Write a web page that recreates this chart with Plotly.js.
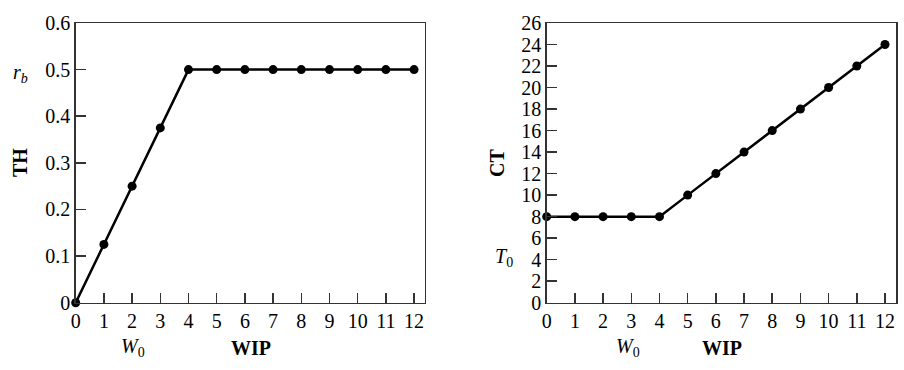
<!DOCTYPE html>
<html>
<head>
<meta charset="utf-8">
<script src="https://cdn.plot.ly/plotly-3.0.1.min.js"></script>
<style>
html,body{margin:0;padding:0;background:#fff;}
#chart{width:904px;height:370px;}
</style>
</head>
<body>
<div id="chart"></div>
<script>
const wip = [0,1,2,3,4,5,6,7,8,9,10,11,12];
const throughput = [0,0.125,0.25,0.375,0.5,0.5,0.5,0.5,0.5,0.5,0.5,0.5,0.5];
const cycleTime = [8,8,8,8,8,10,12,14,16,18,20,22,24];
const xTicks = [0,1,2,3,4,5,6,7,8,9,10,11,12];
const thTicks = [0,0.1,0.2,0.3,0.4,0.5,0.6];
const ctTicks = [0,2,4,6,8,10,12,14,16,18,20,22,24,26];

const W = 904, H = 370;
const px = v => v / W;
const py = v => 1 - v / H;
const SERIF = 'Liberation Serif';

const lineStyle = {color:'#000', width:2.5};
const markerStyle = {color:'#000', size:9};

const traces = [
  {x: wip, y: throughput, xaxis:'x', yaxis:'y', mode:'lines+markers',
   line: lineStyle, marker: markerStyle, cliponaxis:false, showlegend:false},
  {x: wip, y: cycleTime, xaxis:'x2', yaxis:'y2', mode:'lines+markers',
   line: lineStyle, marker: markerStyle, cliponaxis:false, showlegend:false}
];

const tickFont = {family:SERIF, size:20, color:'#000'};
const axisBase = {
  showgrid:false, zeroline:false, showline:true, mirror:true,
  linecolor:'#333', linewidth:1.5,
  ticks:'inside', ticklen:10, tickwidth:1.5, tickcolor:'#333',
  tickfont: tickFont, fixedrange:true
};

const yDom = [py(302.7), py(23)];

function ann(text, x, y, opts) {
  return Object.assign({text:text, x:px(x), y:py(y), xref:'paper', yref:'paper', showarrow:false,
    font:{family:SERIF, size:20, color:'#000'}, xanchor:'center', yanchor:'middle'}, opts || {});
}

const layout = {
  width: W, height: H,
  margin:{l:0,r:0,t:0,b:0},
  font:{family:SERIF, size:20, color:'#000'},
  paper_bgcolor:'#fff', plot_bgcolor:'#fff',
  showlegend:false,
  xaxis: Object.assign({}, axisBase, {domain:[px(75.7), px(424.5)], range:[0,12.37],
    tickvals: xTicks, ticktext: xTicks.map(String), anchor:'y'}),
  yaxis: Object.assign({}, axisBase, {domain:yDom, range:[0,0.6],
    tickvals: thTicks, ticktext: thTicks.map(v => v===0 ? '0' : v.toFixed(1)), anchor:'x'}),
  xaxis2: Object.assign({}, axisBase, {domain:[px(546.7), px(896)], range:[0,12.39],
    tickvals: xTicks, ticktext: xTicks.map(String), anchor:'y2'}),
  yaxis2: Object.assign({}, axisBase, {domain:yDom, range:[0,26],
    tickvals: ctTicks, ticktext: ctTicks.map(String), anchor:'x2'}),
  annotations: [
    ann('<b>TH</b>', 20, 163, {textangle:-90}),
    ann('<b>WIP</b>', 251, 348),
    ann('<b>CT</b>', 497, 163, {textangle:-90}),
    ann('<b>WIP</b>', 722, 348),
    ann('<i>r</i><sub><i>b</i></sub>', 20, 73),
    ann('<i>W</i><sub>0</sub>', 133, 347),
    ann('<i>W</i><sub>0</sub>', 628, 347),
    ann('<i>T</i><sub>0</sub>', 504, 257)
  ]
};

Plotly.newPlot('chart', traces, layout, {displayModeBar:false, staticPlot:true});
</script>
</body>
</html>
